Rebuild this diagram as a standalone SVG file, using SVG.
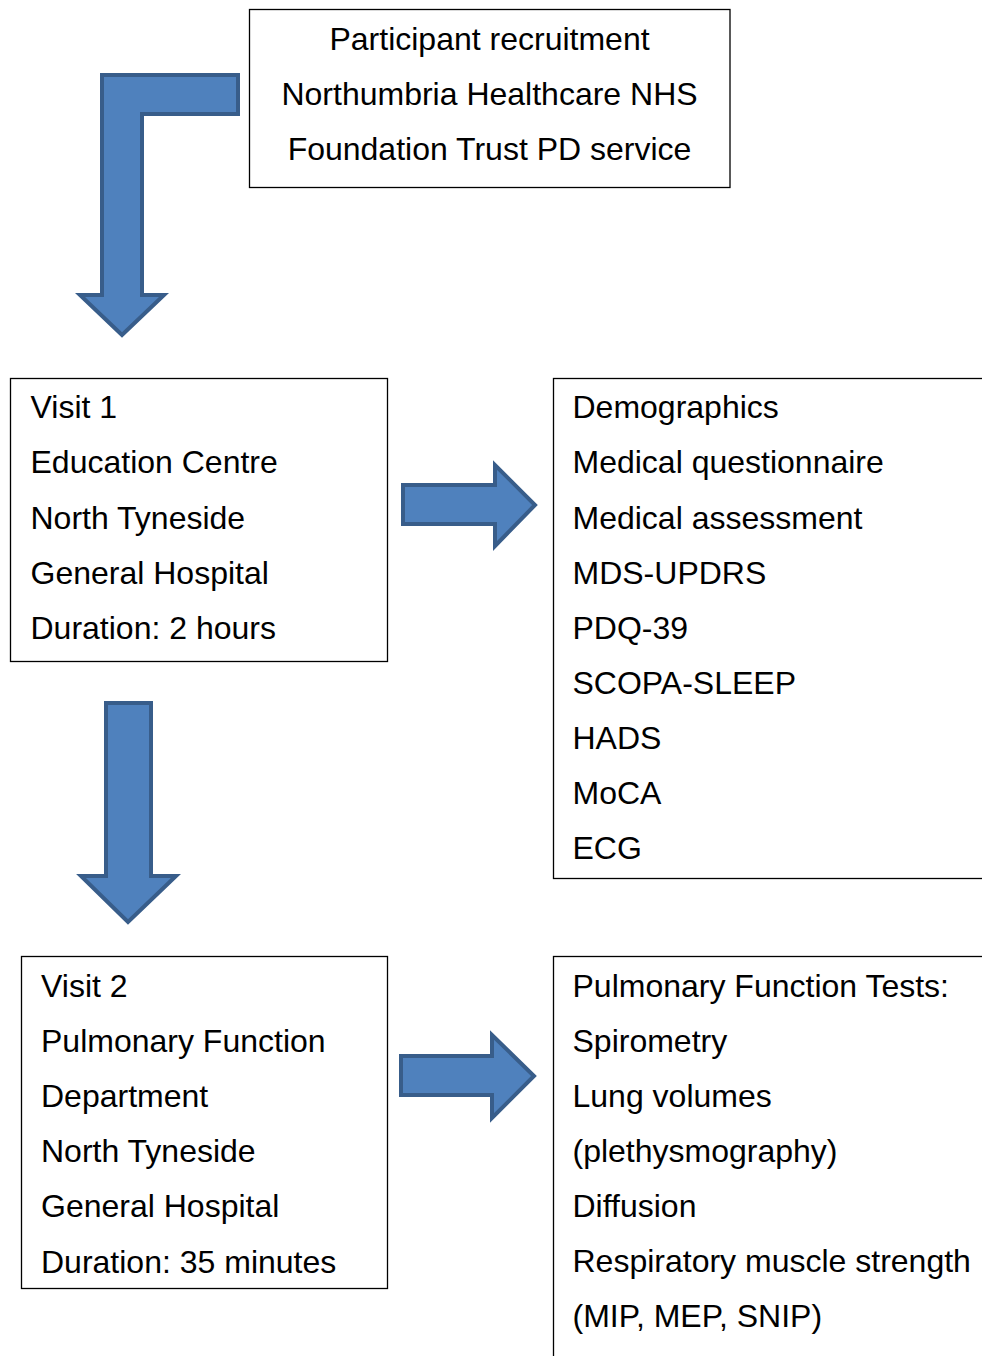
<svg xmlns="http://www.w3.org/2000/svg" width="982" height="1356" viewBox="0 0 982 1356">
<style>
.box{fill:#fff;stroke:#000;stroke-width:1.3}
.t{font-family:"Liberation Sans",Arial,sans-serif;font-size:32px;fill:#000}
.arr{fill:#4f81bd;stroke:#385d8a;stroke-width:4;stroke-linejoin:miter}
</style>
<rect width="982" height="1356" fill="#fff"/>
<g id="connectors">
<path class="arr" d="M238,75 L102,75 L102,295 L80,295 L122,335 L164,295 L142,295 L142,114 L238,114 Z"/>
<path class="arr" d="M403,485 L495,485 L495,465 L535,505 L495,546 L495,524 L403,524 Z"/>
<path class="arr" d="M106,703 L151,703 L151,876 L176,876 L128,922 L81,876 L106,876 Z"/>
<path class="arr" d="M401,1056 L492,1056 L492,1035 L534,1076 L492,1118 L492,1095 L401,1095 Z"/>
</g>
<g id="recruitment">
<rect class="box" x="249.5" y="9.5" width="480.5" height="178"/>
<text class="t" x="489.5" y="50" text-anchor="middle">Participant recruitment</text>
<text class="t" x="489.5" y="105" text-anchor="middle">Northumbria Healthcare NHS</text>
<text class="t" x="489.5" y="160" text-anchor="middle">Foundation Trust PD service</text>
</g>
<g id="visit1">
<rect class="box" x="10.5" y="378.5" width="377" height="283"/>
<text class="t" x="30.5" y="418">Visit 1</text>
<text class="t" x="30.5" y="473">Education Centre</text>
<text class="t" x="30.5" y="529">North Tyneside</text>
<text class="t" x="30.5" y="584">General Hospital</text>
<text class="t" x="30.5" y="639">Duration: 2 hours</text>
</g>
<g id="visit1-assessments">
<rect class="box" x="553.5" y="378.5" width="440" height="500"/>
<text class="t" x="572.5" y="418">Demographics</text>
<text class="t" x="572.5" y="473">Medical questionnaire</text>
<text class="t" x="572.5" y="529">Medical assessment</text>
<text class="t" x="572.5" y="584">MDS-UPDRS</text>
<text class="t" x="572.5" y="639">PDQ-39</text>
<text class="t" x="572.5" y="694">SCOPA-SLEEP</text>
<text class="t" x="572.5" y="749">HADS</text>
<text class="t" x="572.5" y="804">MoCA</text>
<text class="t" x="572.5" y="859">ECG</text>
</g>
<g id="visit2">
<rect class="box" x="21.5" y="956.5" width="366" height="332"/>
<text class="t" x="41" y="997">Visit 2</text>
<text class="t" x="41" y="1052">Pulmonary Function</text>
<text class="t" x="41" y="1107">Department</text>
<text class="t" x="41" y="1162">North Tyneside</text>
<text class="t" x="41" y="1217">General Hospital</text>
<text class="t" x="41" y="1273">Duration: 35 minutes</text>
</g>
<g id="visit2-tests">
<rect class="box" x="553.5" y="956.5" width="440" height="420"/>
<text class="t" x="572.5" y="997">Pulmonary Function Tests:</text>
<text class="t" x="572.5" y="1052">Spirometry</text>
<text class="t" x="572.5" y="1107">Lung volumes</text>
<text class="t" x="572.5" y="1162">(plethysmography)</text>
<text class="t" x="572.5" y="1217">Diffusion</text>
<text class="t" x="572.5" y="1272">Respiratory muscle strength</text>
<text class="t" x="572.5" y="1327">(MIP, MEP, SNIP)</text>
</g>
</svg>
